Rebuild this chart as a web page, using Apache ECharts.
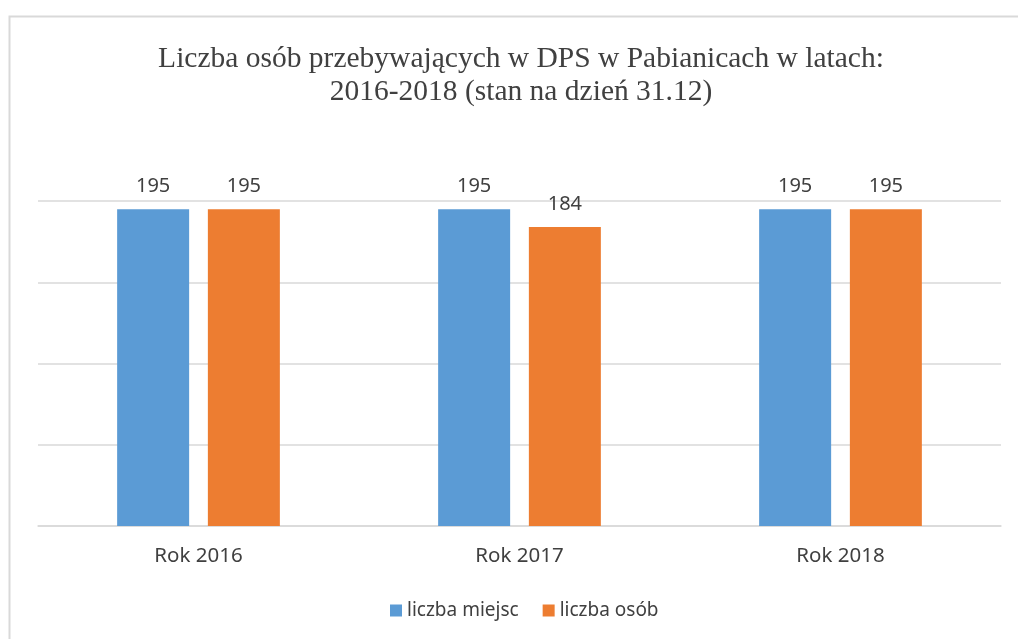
<!DOCTYPE html>
<html>
<head>
<meta charset="utf-8">
<style>
  html, body { margin: 0; padding: 0; background: #fff; }
  #chart { width: 1018px; height: 639px; }
</style>
<script src="https://cdn.jsdelivr.net/npm/echarts@6/dist/echarts.min.js"></script>
</head>
<body>
<div id="chart"></div>
<script>
// dane z wykresu
const categories = ['Rok 2016', 'Rok 2017', 'Rok 2018'];
const liczbaMiejsc = [195, 195, 195];
const liczbaOsob = [195, 184, 195];
const seriesNames = ['liczba miejsc', 'liczba osób'];

const textColor = '#404040';
const gridColor = '#d9d9d9';

const chart = echarts.init(document.getElementById('chart'));

const labelStyle = {
    show: true,
    position: 'top',
    distance: 13,
    color: textColor,
    fontFamily: 'Noto Sans',
    fontSize: 20
};

chart.setOption({
    animation: false,
    backgroundColor: '#fff',
    graphic: [{
        type: 'rect',
        shape: { x: 9.5, y: 16.5, width: 1030, height: 650 },
        style: { fill: 'none', stroke: gridColor, lineWidth: 2 },
        silent: true
    }],
    title: {
        text: 'Liczba osób przebywających w DPS w Pabianicach w latach:\n2016-2018 (stan na dzień 31.12)',
        left: 521,
        textAlign: 'center',
        top: 43,
        padding: 0,
        textStyle: {
            fontFamily: 'Liberation Serif',
            fontWeight: 'normal',
            fontSize: 29.5,
            lineHeight: 33,
            color: textColor
        }
    },
    legend: {
        top: 596,
        left: 385,
        itemWidth: 12,
        itemHeight: 12,
        itemGap: 24,
        icon: 'rect',
        textStyle: { fontFamily: 'Noto Sans', fontSize: 19, color: textColor },
        data: seriesNames
    },
    grid: { left: 38, right: 17, top: 201, bottom: 113 },
    xAxis: {
        type: 'category',
        data: categories,
        axisLine: { lineStyle: { color: gridColor, width: 1.5 } },
        axisTick: { show: false },
        axisLabel: {
            margin: 20,
            color: textColor,
            fontFamily: 'Noto Sans',
            fontSize: 20.5
        }
    },
    yAxis: {
        type: 'value',
        min: 0,
        max: 200,
        interval: 50,
        axisLine: { show: false },
        axisTick: { show: false },
        axisLabel: { show: false },
        splitLine: { lineStyle: { color: gridColor, width: 1.5 } }
    },
    series: [
        {
            name: seriesNames[0],
            type: 'bar',
            data: liczbaMiejsc,
            barWidth: 72,
            barGap: '26%',
            itemStyle: { color: '#5b9bd5' },
            label: labelStyle
        },
        {
            name: seriesNames[1],
            type: 'bar',
            data: liczbaOsob,
            barWidth: 72,
            barGap: '26%',
            itemStyle: { color: '#ed7d31' },
            label: labelStyle
        }
    ]
});
</script>
</body>
</html>
